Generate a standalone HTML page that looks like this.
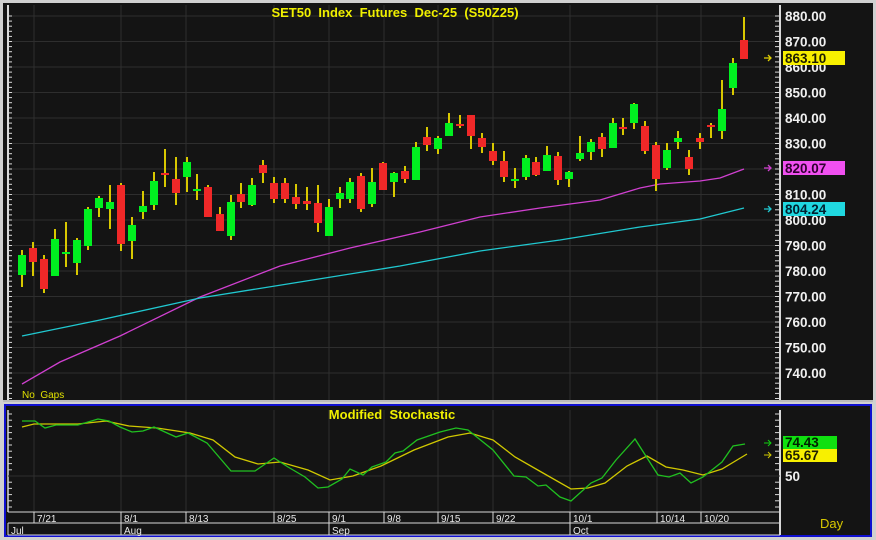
<!DOCTYPE html>
<html><head><meta charset="utf-8"><style>
html,body{margin:0;padding:0;background:#c8c8c8;width:876px;height:540px;overflow:hidden}
svg{display:block;font-family:"Liberation Sans",sans-serif}
</style></head><body>
<svg id="s" width="876" height="540" viewBox="0 0 876 540" xmlns="http://www.w3.org/2000/svg">
<rect x="0" y="0" width="876" height="540" fill="#d0d0d0"/>
<rect x="3" y="3" width="870" height="399" fill="#141414"/>
<rect x="5" y="405" width="866" height="131" fill="#141414" stroke="#1010d0" stroke-width="2"/>
<g id="g"></g>
</svg>
<script>
var NS="http://www.w3.org/2000/svg",g=document.getElementById('g'),h='';
function L(x1,y1,x2,y2,c,w){h+='<line x1="'+x1+'" y1="'+y1+'" x2="'+x2+'" y2="'+y2+'" stroke="'+c+'" stroke-width="'+(w||1)+'"/>';}
function T(x,y,t,c,s,a,b){h+='<text x="'+x+'" y="'+y+'" fill="'+c+'" font-size="'+s+'" font-weight="'+(b?'bold':'normal')+'" text-anchor="'+(a||'start')+'">'+t+'</text>';}
// main panel grid
var vx=[34,121,186,274,329,384,438,493,570,657,701];
for(var p=0;p<=14;p++){var y=16+25.5*p;L(8,y,779,y,'#2e2e2e');}
vx.forEach(function(x){L(x,5,x,400,'#2e2e2e');L(x,410,x,512,'#2e2e2e');});
L(8,5,8,400,'#d8d8d8',2);L(780,5,780,400,'#d8d8d8',2);
for(var y=16;y<400;y+=5.1){L(775,y,780,y,'#d8d8d8');L(8,y,12,y,'#d8d8d8');}
L(3,401,873,401,'#bbb',2);
// prices
for(var p=0;p<=14;p++){var y=16+25.5*p;T(785,y+5,(880-10*p).toFixed(2),'#f0f0f0',13.5,'start',true);}
// MAs
h+='<polyline fill="none" stroke="#d040d0" stroke-width="1.3" points="22,384 60,362 120,336 200,297 280,266 350,248 420,232 480,217 540,208 600,200 640,188 660,184 700,181 720,178 744,169"/>';
h+='<polyline fill="none" stroke="#20c8d0" stroke-width="1.3" points="22,336 100,320 200,298 300,282 400,266 480,251 560,240 640,227 700,219 744,208"/>';
var C=[[22,250,287,255,275,1],[33,242,276,248,262,0],[44,255,293,259,289,0],[55,229,276,239,276,1],[66,222,267,252,254,1],[77,238,275,240,263,1],[88,207,250,209,246,1],[99,196,217,198,208,1],[110,185,229,202,209,1],[121,183,251,185,244,0],[132,217,259,225,241,1],[143,191,219,206,212,1],[154,172,210,181,205,1],[165,149,187,173,175,0],[176,157,205,179,193,0],[187,157,192,162,177,1],[197,174,200,189,191,1],[208,185,217,187,217,0],[220,207,231,214,231,0],[231,195,240,202,236,1],[241,183,208,194,202,0],[252,178,206,185,205,1],[263,160,183,165,173,0],[274,177,203,183,199,0],
[285,178,203,183,199,0],[296,184,209,197,204,0],[307,187,210,201,204,0],[318,185,232,203,223,0],[329,199,236,207,236,1],[340,187,208,193,199,1],[350,178,203,182,199,1],[361,173,212,176,209,0],[372,168,207,182,204,1],[383,162,190,163,190,0],[394,172,197,173,182,1],[405,166,183,171,179,0],[416,142,180,147,180,1],[427,127,151,137,145,0],[438,136,154,138,149,1],[449,113,136,123,136,1],[460,115,128,124,126,0],[471,115,149,115,136,0],[482,133,153,138,147,0],[493,143,165,151,161,0],[504,151,182,161,177,0],[515,168,188,179,181,1],[526,155,180,158,177,1],[536,157,176,162,175,0],[547,146,171,155,171,1],[558,152,185,156,180,0],[569,171,187,172,179,1],[580,136,161,153,159,1],[591,139,160,142,152,1],
[602,133,157,137,149,0],[613,118,148,123,148,1],[623,118,135,127,129,0],[634,103,129,104,123,1],[645,121,154,126,151,0],[656,142,191,145,179,0],[667,143,170,150,168,1],[678,131,149,138,142,1],[689,150,175,157,169,0],[700,133,149,138,142,0],[711,123,138,125,127,0],[722,80,139,109,131,1],[733,58,95,63,88,1],[744,17,59,40,59,0]];
C.forEach(function(c){L(c[0],c[1],c[0],c[2],'#d8c800',2);h+='<rect x="'+(c[0]-4)+'" y="'+c[3]+'" width="8" height="'+Math.max(2,c[4]-c[3])+'" fill="'+(c[5]?'#00f020':'#f02828')+'"/>';});
T(395,17,'SET50&#160; Index&#160; Futures&#160; Dec-25&#160; (S50Z25)','#f0f000',13,'middle',true);
T(22,398,'No&#160; Gaps','#e0e000',10);
// labels
function lab(y,t,bg,fg,ac){h+='<rect x="783" y="'+(y-7)+'" width="'+62+'" height="14" fill="'+bg+'"/>';T(785,y+5,t,fg,13.5,'start',true);h+='<path d="M764 '+y+'h7 M768 '+(y-3)+'l3 3 -3 3" stroke="'+ac+'" fill="none" stroke-width="1.3"/>';}
lab(58,'863.10','#f8f000','#202000','#e0d000');
lab(168,'820.07','#f050f0','#300030','#d040d0');
lab(209,'804.24','#20d8e0','#002030','#20c8d0');
// stochastic panel
L(780,410,780,535,'#d8d8d8',2);
for(var y=414;y<512;y+=6.2){L(775,y,780,y,'#d8d8d8');L(8,y,12,y,'#d8d8d8');}
L(8,410,8,512,'#d8d8d8',1.5);
L(8,512,780,512,'#d8d8d8');L(8,523,780,523,'#d8d8d8');L(8,535,780,535,'#d8d8d8');
L(8,476,780,476,'#2e2e2e');
T(392,419,'Modified&#160; Stochastic','#f0f000',13,'middle',true);
h+='<polyline fill="none" stroke="#d0c800" stroke-width="1.3" points="22,427 34,424 78,424 106,421 129,426 157,428 190,433 213,440 235,457 258,464 280,462 308,470 330,480 353,476 381,466 414,450 448,437 470,433 493,440 515,457 543,473 571,489 588,488 605,483 627,466 647,456 666,467 683,470 703,475 722,469 747,454"/>';
h+='<polyline fill="none" stroke="#20c020" stroke-width="1.3" points="22,421 35,421 45,428 56,425 78,425 98,419 109,421 120,427 132,432 143,431 154,427 176,437 188,433 207,443 231,471 255,471 274,458 288,467 305,477 318,488 328,487 342,479 350,469 363,475 372,467 386,462 395,453 403,451 417,440 440,432 456,428 468,430 493,450 514,476 526,477 538,486 546,485 560,497 571,501 591,483 602,478 616,460 635,439 658,475 669,477 680,473 691,483 703,477 722,462 733,446 745,444"/>';
h+='<rect x="783" y="436" width="54" height="13" fill="#10e010"/>';T(785,447,'74.43','#002000',13.5,'start',true);
h+='<rect x="783" y="449" width="54" height="13" fill="#f8f000"/>';T(785,460,'65.67','#202000',13.5,'start',true);
h+='<path d="M764 443h7 M768 440l3 3 -3 3" stroke="#10d010" fill="none"/><path d="M764 455h7 M768 452l3 3 -3 3" stroke="#d0c800" fill="none"/>';
T(785,481,'50','#f0f0f0',13.5,'start',true);
T(820,528,'Day','#d8c800',13);
var dl=[[34,'7/21'],[121,'8/1'],[186,'8/13'],[274,'8/25'],[329,'9/1'],[384,'9/8'],[438,'9/15'],[493,'9/22'],[570,'10/1'],[657,'10/14'],[701,'10/20']];
dl.forEach(function(d){L(d[0],512,d[0],523,'#d8d8d8');T(d[0]+3,522,d[1],'#e8e8e8',10);});
[[8,'Jul'],[121,'Aug'],[329,'Sep'],[570,'Oct']].forEach(function(d){L(d[0],523,d[0],535,'#d8d8d8');T(d[0]+3,534,d[1],'#e8e8e8',10);});
g.innerHTML=h;
</script>
</body></html>
